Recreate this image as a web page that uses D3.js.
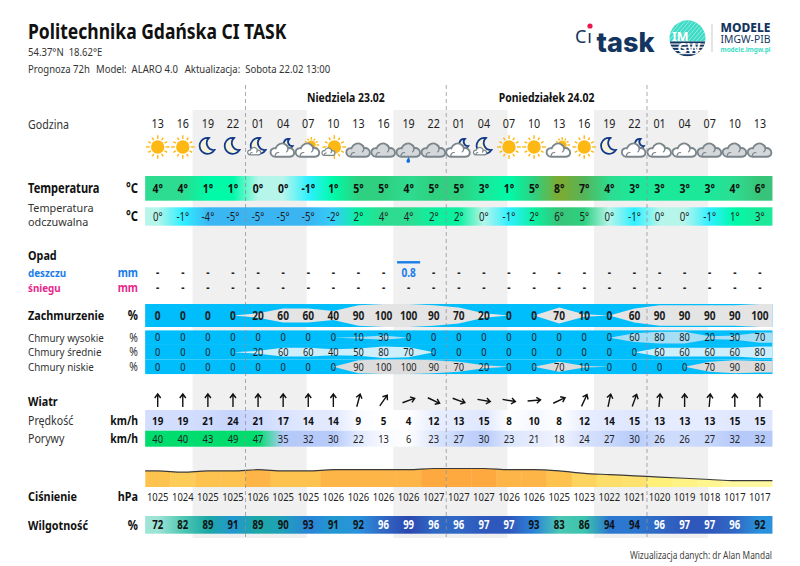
<!DOCTYPE html>
<html>
<head>
<meta charset="utf-8">
<script src="https://cdn.jsdelivr.net/npm/d3@7/dist/d3.min.js"></script>
<style>
  html, body { margin: 0; padding: 0; background: #fff; }
  svg { display: block; }
  text { font-family: "Noto Sans", sans-serif; }
</style>
</head>
<body>
<div id="chart"></div>
<script>
var WIDTH = 800, HEIGHT = 566;

// forecast values, one per column
var hours = ['13','16','19','22','01','04','07','10','13','16','19','22','01','04','07','10','13','16','19','22','01','04','07','10','13'];
var icons = ['sun','sun','moon','moon','moonCloud','cloudMoon','cloudSun','sunCloud','grey','grey','rain','grey','cloudMoon','moonCloud','sun','sun','cloudSun','sun','moon','cloudMoon','white','white','grey','grey','grey'];
var temperature = [4,4,1,1,0,0,-1,1,5,5,4,5,5,3,1,5,8,7,4,3,3,3,3,4,6];
var feelsLike = [0,-1,-4,-5,-5,-5,-5,-2,2,4,4,2,2,0,-1,2,6,5,0,-1,0,0,-1,1,3];
var rain = [0,0,0,0,0,0,0,0,0,0,0.8,0,0,0,0,0,0,0,0,0,0,0,0,0,0];
var snow = [0,0,0,0,0,0,0,0,0,0,0,0,0,0,0,0,0,0,0,0,0,0,0,0,0];
var cloudTotal = [0,0,0,0,20,60,60,40,90,100,100,90,70,20,0,0,70,10,0,60,90,90,90,90,100];
var cloudHigh = [0,0,0,0,0,0,0,0,10,30,0,0,0,0,0,0,0,0,0,60,80,80,20,30,70];
var cloudMid = [0,0,0,0,20,60,60,40,50,80,70,0,0,0,0,0,0,0,0,0,60,60,60,60,80];
var cloudLow = [0,0,0,0,0,0,0,0,90,100,100,90,70,20,0,0,70,10,0,0,0,0,70,90,80];
var windDir = [0,0,0,0,0,0,0,0,15,35,70,115,110,100,100,85,65,25,12,20,5,0,5,0,0];
var windSpeed = [19,19,21,24,21,17,14,14,9,5,4,12,13,15,8,10,8,12,14,15,13,13,13,15,15];
var windGust = [40,40,43,49,47,35,32,30,22,13,6,23,27,30,23,21,18,24,27,30,26,26,27,32,32];
var pressure = [1025,1024,1025,1025,1026,1025,1025,1026,1026,1026,1026,1027,1027,1027,1026,1026,1025,1023,1022,1021,1020,1019,1018,1017,1017];
var humidity = [72,82,89,91,89,90,93,91,92,96,99,96,96,97,97,93,83,86,94,94,96,97,97,96,92];

// night bands and day changes, in column units
var nightFrom = [1.39,9.39,17.39];
var nightTo = [5.94,13.94,21.94];
var dayBreaks = [3.5,11.5,19.5];
var dayNames = ['Niedziela 23.02','Poniedziałek 24.02'];
var dayCentres = [7.5,15.5];

var x = d3.scaleLinear().domain([0,24]).range([157.7,759.9]);
var barLeft = x(-0.5), barRight = x(24.5);
var columns = d3.range(hours.length);

var tempColor = d3.scaleLinear()
  .domain([-5,-4,-2,-1,0,1,2,3,4,5,6,7,8])
  .range(['#3ab5f2','#3ab8f4','#35cdf8','#2ff0ff','#b5f5ea','#00faa8','#0df0a0','#1ce89a','#2ddc90','#2fd080','#38c478','#55b55a','#7eaa30']);
var speedColor = d3.scaleLinear()
  .domain([4,8,12,15,19,24])
  .range(['#ffffff','#ffffff','#e8eeff','#dfe7ff','#d3deff','#c6d4fc']);
var gustColor = d3.scaleLinear()
  .domain([6,13,18,23,27,30,35,39.9,40,50])
  .range(['#ffffff','#f8f9ff','#f0f3fe','#dde6fd','#c8d7fb','#b7cbfa','#b5c9f9','#b5c9f9','#00dd6e','#00dd6e']);
var humColor = d3.scaleLinear()
  .domain([72,82,86,89,91,92,93,94,96,97,99])
  .range(['#9de3d6','#50c8b4','#3cc4ae','#1ca8a6','#2298d0','#2a92dc','#2b84d8','#2c78d0','#3068c4','#2f58bc','#2a48b0']);
var pressColor = d3.scaleLinear()
  .domain([1017,1018,1019,1020,1021,1022,1023,1024,1025,1026,1027])
  .range(['#fff8a0','#fff690','#fff385','#fff07a','#fee270','#fede6a','#fed460','#fecc58','#fec24f','#fdb548','#fda93f']);

var svg = d3.select('#chart').append('svg')
  .attr('width', WIDTH)
  .attr('height', HEIGHT)
  .attr('viewBox', '0 0 ' + WIDTH + ' ' + HEIGHT);
var defs = svg.append('defs');

// the text of the original is narrow and tall, so every label is squeezed sideways
var TEXT_TALL = 1.2, TEXT_NARROW = 0.82;
// rows that sit close together keep a flatter text
var FLAT = { tall: 1.13, narrow: 0.87 };

function label(parent, px, py, str, size, opts) {
  opts = opts || {};
  return parent.append('text')
    .attr('transform', 'translate(' + px + ',' + py + ') scale(' + (opts.narrow || TEXT_NARROW) + ',1)')
    .attr('dy', '.35em')
    .attr('font-size', size * (opts.tall || TEXT_TALL))
    .attr('font-weight', opts.weight || 400)
    .attr('text-anchor', opts.anchor || 'start')
    .attr('fill', opts.fill || '#222')
    .text(str);
}

function flat(opts) {
  return Object.assign({}, opts, FLAT);
}

// horizontal gradient with one stop at each column centre
function rowGradient(id, values, color) {
  var grad = defs.append('linearGradient')
    .attr('id', id)
    .attr('gradientUnits', 'userSpaceOnUse')
    .attr('x1', x(0)).attr('x2', x(24)).attr('y1', 0).attr('y2', 0);
  grad.selectAll('stop').data(values).enter().append('stop')
    .attr('offset', function(d, i) { return i / 24; })
    .attr('stop-color', function(d) { return color(d); });
  return 'url(#' + id + ')';
}

function colourRow(id, values, color, top, bottom) {
  svg.append('rect')
    .attr('x', barLeft).attr('y', top)
    .attr('width', barRight - barLeft).attr('height', bottom - top)
    .attr('fill', rowGradient(id, values, color));
}

function columnText(values, py, size, opts, fmt) {
  var g = svg.append('g');
  values.forEach(function(v, i) {
    var o = Object.assign({ anchor: 'middle' }, opts);
    if (typeof o.fill === 'function') o.fill = o.fill(v);
    label(g, x(i), py, fmt ? fmt(v) : v, size, o);
  });
}

// night bands
svg.selectAll('.night').data(nightFrom).enter().append('rect')
  .attr('class', 'night')
  .attr('x', function(d) { return x(d); })
  .attr('y', 110)
  .attr('width', function(d, i) { return x(nightTo[i]) - x(d); })
  .attr('height', 428)
  .attr('fill', '#f0f0f0');

// header
label(svg, 28, 32, 'Politechnika Gdańska CI TASK', 17.8, { weight: 700, fill: '#111' });
label(svg, 28, 52, '54.37°N  18.62°E', 9.7, { fill: '#333' }).attr('xml:space', 'preserve');
label(svg, 28, 69, 'Prognoza 72h', 9.7, { fill: '#333' });
label(svg, 96, 69, 'Model:  ALARO 4.0', 9.7, { fill: '#333' }).attr('xml:space', 'preserve');
label(svg, 184.7, 69, 'Aktualizacja:  Sobota 22.02 13:00', 9.7, { fill: '#333' }).attr('xml:space', 'preserve');

// logos
var NAVY = '#14355f', TEAL = '#3edcc6';
svg.append('text').attr('x', 575).attr('y', 43).attr('font-size', 18).attr('font-weight', 400)
  .attr('textLength', 17).attr('lengthAdjust', 'spacing')
  .attr('fill', NAVY).text('Cı');
svg.append('circle').attr('cx', 590).attr('cy', 26).attr('r', 2.6).attr('fill', '#e8174f');
svg.append('text').attr('x', 596.5).attr('y', 52).attr('font-size', 27).attr('font-weight', 800)
  .attr('textLength', 58).attr('lengthAdjust', 'spacingAndGlyphs')
  .style('font-family', 'Inter, sans-serif')
  .attr('fill', NAVY).text('task');

defs.append('clipPath').attr('id', 'logoClip').append('circle').attr('cx', 687.5).attr('cy', 38.3).attr('r', 18);
var logo = svg.append('g').attr('clip-path', 'url(#logoClip)');
logo.append('rect').attr('x', 669).attr('y', 20).attr('width', 37).attr('height', 21.5).attr('fill', TEAL);
logo.append('rect').attr('x', 669).attr('y', 41.5).attr('width', 37).attr('height', 15).attr('fill', NAVY);
d3.range(4).forEach(function(k) {
  logo.append('rect').attr('x', 669).attr('y', 43.5 + k * 3.2).attr('width', 37).attr('height', 1.1).attr('fill', '#fff');
});
d3.range(14).forEach(function(k) {
  logo.append('line').attr('x1', 664 + k * 4).attr('y1', 41.5).attr('x2', 684 + k * 4).attr('y2', 18)
    .attr('stroke', '#fff').attr('stroke-width', 0.8).attr('opacity', 0.55);
});
logo.append('text').attr('x', 672).attr('y', 40.7).attr('font-size', 12.5).attr('font-weight', 700).attr('fill', '#fff').text('IM');
logo.append('text').attr('x', 677.5).attr('y', 52.7).attr('font-size', 14).attr('font-weight', 700)
  .attr('textLength', 23).attr('lengthAdjust', 'spacingAndGlyphs').attr('fill', '#fff').text('GW');
svg.append('line').attr('x1', 712).attr('x2', 712).attr('y1', 24).attr('y2', 52).attr('stroke', '#c9c9c9');
var brand = svg.append('text').attr('fill', NAVY);
brand.append('tspan').attr('x', 720.5).attr('y', 32).attr('font-size', 11.5).attr('font-weight', 800)
  .attr('textLength', 50).attr('lengthAdjust', 'spacingAndGlyphs').text('MODELE');
brand.append('tspan').attr('x', 720.5).attr('y', 43.3).attr('font-size', 10.5)
  .attr('textLength', 50).attr('lengthAdjust', 'spacingAndGlyphs').text('IMGW-PIB');
brand.append('tspan').attr('x', 720.5).attr('y', 52).attr('font-size', 7).attr('font-weight', 700).attr('fill', TEAL)
  .attr('textLength', 50).attr('lengthAdjust', 'spacingAndGlyphs').text('modele.imgw.pl');

// days and hours
dayNames.forEach(function(d, i) {
  label(svg, x(dayCentres[i]), 98, d, 10.6, { weight: 700, anchor: 'middle', fill: '#111' });
});
label(svg, 28, 124, 'Godzina', 10.8, { fill: '#333' });
columnText(hours, 123.5, 10.9, { fill: '#222' });

// weather icons
var CLOUD = 'M-7,7C-11,7 -12,3 -11.5,1.5C-11,-1 -8,-2 -6.5,-1.5C-5,-6 0,-7.5 3,-5.5C5,-4.5 6,-3 6,-1.5C9,-2.5 12,0 12,3C12,6 9.5,7 7,7Z';
var MOON = 'M2,-8.5A8,8 0 1 0 7.5,3.5A7,7 0 0 1 2,-8.5Z';

function sun(g, cx, cy, r) {
  g.append('circle').attr('cx', cx).attr('cy', cy).attr('r', r).attr('fill', '#fdb813');
  d3.range(12).forEach(function(k) {
    var a = k * Math.PI / 6, len = k % 3 === 0 ? 1.5 : 1.38;
    g.append('line')
      .attr('x1', cx + Math.cos(a) * r * 1.18).attr('y1', cy + Math.sin(a) * r * 1.18)
      .attr('x2', cx + Math.cos(a) * r * 1.18 * len).attr('y2', cy + Math.sin(a) * r * 1.18 * len)
      .attr('stroke', '#fdb813').attr('stroke-width', 1.4);
  });
}

function moon(g, cx, cy, s) {
  g.append('path')
    .attr('d', MOON)
    .attr('transform', 'translate(' + cx + ',' + cy + ') scale(' + s + ')')
    .attr('fill', '#f7f3d8').attr('stroke', '#12398a').attr('stroke-width', 1.8 / s);
}

function cloud(g, cx, cy, s, fill) {
  var sw = s < 0.7 ? 1.2 : 1.9;
  g.append('path')
    .attr('d', CLOUD)
    .attr('transform', 'translate(' + cx + ',' + cy + ') scale(' + s + ')')
    .attr('fill', fill).attr('stroke', '#7b868c').attr('stroke-width', sw / s);
  g.append('path')
    .attr('d', 'M-7,7C-7.5,4 -5,2 -3,3M6,-1.5C6,0 5,2 4,2.5')
    .attr('transform', 'translate(' + cx + ',' + cy + ') scale(' + s + ')')
    .attr('fill', 'none').attr('stroke', '#7b868c').attr('stroke-width', 1.2 / s);
}

var drawIcon = {
  sun: function(g) { sun(g, 0, 147, 6.7); },
  moon: function(g) { moon(g, -1, 146.5, 1); },
  moonCloud: function(g) { moon(g, 0, 146.5, 1); cloud(g, -4, 151, 0.55, '#fff'); },
  cloudMoon: function(g) { moon(g, 5, 144, 0.6); cloud(g, -1, 149.8, 1, '#fff'); },
  cloudSun: function(g) { sun(g, 3, 145, 4.5); cloud(g, -1, 149.8, 1, '#fff'); },
  sunCloud: function(g) { sun(g, 1, 147, 6.7); cloud(g, -5, 151.5, 0.55, '#fff'); },
  grey: function(g) { cloud(g, -0.5, 149.8, 1, '#d5d8da'); },
  white: function(g) { cloud(g, -0.5, 149.8, 1, '#fff'); },
  rain: function(g) {
    cloud(g, -0.5, 149.8, 1, '#d5d8da');
    g.append('path').attr('d', 'M0,157C-2,160 -2.5,161 -2,162C-1,163.5 1.5,163 1.5,161C1.5,160 1,159 0,157Z').attr('fill', '#0b6fe0');
  }
};
icons.forEach(function(name, i) {
  var g = svg.append('g').attr('transform', 'translate(' + x(i) + ',0)');
  drawIcon[name](g);
});

// temperature
label(svg, 28, 188.5, 'Temperatura', 11.3, { weight: 700, fill: '#111' });
label(svg, 138, 188.5, '°C', 11.5, { weight: 700, anchor: 'end', fill: '#111' });
colourRow('gTemp', temperature, tempColor, 176, 200.7);
columnText(temperature, 188.5, 10.6, { weight: 700, fill: '#111' }, function(v) { return v + '°'; });

var feelsTitle = label(svg, 28, 208, '', 11, { fill: '#333', tall: 1.06, narrow: 0.93 });
feelsTitle.append('tspan').attr('x', 0).text('Temperatura');
feelsTitle.append('tspan').attr('x', 0).attr('dy', 14).text('odczuwalna');
label(svg, 138, 216.5, '°C', 11.5, { weight: 700, anchor: 'end', fill: '#111' });
colourRow('gFeels', feelsLike, tempColor, 207.3, 225.7);
columnText(feelsLike, 216.5, 9.8, { fill: '#222' }, function(v) { return v + '°'; });

// precipitation
label(svg, 28, 255, 'Opad', 11, { weight: 700, fill: '#111' });
label(svg, 28, 273, 'deszczu', 10, flat({ weight: 700, fill: '#1a7de8' }));
label(svg, 138, 273, 'mm', 10.6, flat({ weight: 700, anchor: 'end', fill: '#1a7de8' }));
label(svg, 28, 287.7, 'śniegu', 10, flat({ weight: 700, fill: '#e8278c' }));
label(svg, 138, 287.7, 'mm', 10.6, flat({ weight: 700, anchor: 'end', fill: '#e8278c' }));

var rainHeight = d3.scaleLinear().domain([0,0.8]).range([0,2.4]);
svg.selectAll('.rainbar').data(columns.filter(function(i) { return rain[i] > 0; })).enter().append('rect')
  .attr('class', 'rainbar')
  .attr('x', function(i) { return x(i - 0.46); })
  .attr('width', function(i) { return x(i + 0.46) - x(i - 0.46); })
  .attr('y', function(i) { return 263.5 - rainHeight(rain[i]); })
  .attr('height', function(i) { return rainHeight(rain[i]); })
  .attr('fill', '#1a7de8');
function precipText(values, py, fill) {
  values.forEach(function(v, i) {
    if (v > 0) label(svg, x(i), py, v.toFixed(1), 10.3, flat({ weight: 700, anchor: 'middle', fill: fill }));
    else label(svg, x(i), py, '-', 10.3, flat({ weight: 700, anchor: 'middle', fill: '#222' }));
  });
}
precipText(rain, 273, '#1a7de8');
precipText(snow, 287.7, '#e8278c');

// clouds
var SKY = '#00bdfb';
function cloudRow(values, top, bottom, fill, size, opts) {
  var mid = (top + bottom) / 2;
  var half = d3.scaleLinear().domain([0,100]).range([0,(bottom - top) / 2]);
  svg.append('rect').attr('x', barLeft).attr('y', top)
    .attr('width', barRight - barLeft).attr('height', bottom - top).attr('fill', SKY);
  var pts = [{ i: -0.5, v: values[0] }]
    .concat(values.map(function(v, i) { return { i: i, v: v }; }))
    .concat([{ i: 24.5, v: values[24] }]);
  svg.append('path')
    .datum(pts)
    .attr('d', d3.area()
      .x(function(d) { return x(d.i); })
      .y0(function(d) { return mid - half(d.v); })
      .y1(function(d) { return mid + half(d.v); }))
    .attr('fill', fill);
  columnText(values, mid, size, opts);
}
label(svg, 28, 315.5, 'Zachmurzenie', 11, { weight: 700, fill: '#111' });
label(svg, 138, 315.5, '%', 11.5, { weight: 700, anchor: 'end', fill: '#111' });
cloudRow(cloudTotal, 304, 327, '#e4e4e4', 10.3, { weight: 700, fill: '#1c1c1c' });
var cloudNames = ['Chmury wysokie','Chmury średnie','Chmury niskie'];
var cloudSeries = [cloudHigh, cloudMid, cloudLow];
var cloudFills = ['#a5def5','#cdeefb','#dcdcdc'];
cloudNames.forEach(function(n, k) {
  var top = 330.4 + k * 14.55;
  label(svg, 28, top + 7.3, n, 10, flat({ fill: '#333' }));
  label(svg, 138, top + 7.3, '%', 10.6, flat({ anchor: 'end', fill: '#333' }));
  cloudRow(cloudSeries[k], top, top + 14.55, cloudFills[k], 9.4, flat({ fill: '#1c1c1c' }));
});

// wind
label(svg, 28, 401, 'Wiatr', 11, { weight: 700, fill: '#111' });
windDir.forEach(function(deg, i) {
  var g = svg.append('g').attr('transform', 'translate(' + x(i) + ',400.5) rotate(' + deg + ')');
  g.append('path').attr('d', 'M0,6.5V-6M-3,-2.5L0,-6.5L3,-2.5')
    .attr('fill', 'none').attr('stroke', '#111').attr('stroke-width', 1.4);
});
label(svg, 28, 421, 'Prędkość', 10.8, flat({ fill: '#333' }));
label(svg, 138, 421, 'km/h', 10.6, flat({ weight: 700, anchor: 'end', fill: '#111' }));
colourRow('gSpeed', windSpeed, speedColor, 410, 430.7);
columnText(windSpeed, 421, 10, flat({ weight: 700, fill: '#111' }));
label(svg, 28, 439, 'Porywy', 10.8, flat({ fill: '#333' }));
label(svg, 138, 439, 'km/h', 10.6, flat({ weight: 700, anchor: 'end', fill: '#111' }));
colourRow('gGust', windGust, gustColor, 430.7, 446.7);
columnText(windGust, 439, 9.5, flat({ fill: '#222' }));

// pressure
var pressY = d3.scaleLinear().domain([1017,1027]).range([480.7,468.5]);
var pressPts = [{ i: -0.5, v: pressure[0] }]
  .concat(pressure.map(function(v, i) { return { i: i, v: v }; }))
  .concat([{ i: 24.5, v: pressure[24] }]);
defs.append('clipPath').attr('id', 'pressClip').append('path')
  .attr('d', d3.area().x(function(d) { return x(d.i); }).y0(487).y1(function(d) { return pressY(d.v); }).curve(d3.curveMonotoneX)(pressPts));
svg.append('g').attr('clip-path', 'url(#pressClip)')
  .selectAll('rect').data(columns).enter().append('rect')
  .attr('x', function(i) { return x(i - 0.5); })
  .attr('width', function(i) { return x(i + 0.5) - x(i - 0.5) + 0.3; })
  .attr('y', 460).attr('height', 30)
  .attr('fill', function(i) { return pressColor(pressure[i]); });
svg.append('path')
  .attr('d', d3.line().x(function(d) { return x(d.i); }).y(function(d) { return pressY(d.v); }).curve(d3.curveMonotoneX)(pressPts))
  .attr('fill', 'none').attr('stroke', '#3a3a3a').attr('stroke-width', 1.2);
label(svg, 28, 496, 'Ciśnienie', 11, { weight: 700, fill: '#111' });
label(svg, 138, 496, 'hPa', 11, { weight: 700, anchor: 'end', fill: '#111' });
columnText(pressure, 496.5, 9.6, { fill: '#222' });

// humidity
label(svg, 28, 525, 'Wilgotność', 11, { weight: 700, fill: '#111' });
label(svg, 138, 525, '%', 11.5, { weight: 700, anchor: 'end', fill: '#111' });
colourRow('gHum', humidity, humColor, 516, 533.7);
columnText(humidity, 525, 9.7, { weight: 700, fill: function(v) { return v >= 96 ? '#fff' : '#111'; } });

// day separators
svg.selectAll('.sep').data(dayBreaks).enter().append('line')
  .attr('class', 'sep')
  .attr('x1', function(d) { return x(d); })
  .attr('x2', function(d) { return x(d); })
  .attr('y1', 85).attr('y2', 538)
  .attr('stroke', '#8f8f9a').attr('stroke-width', 1)
  .attr('stroke-dasharray', '4,3')
  .attr('opacity', 0.75);

label(svg, 772, 555, 'Wizualizacja danych: dr Alan Mandal', 8.5, { anchor: 'end', fill: '#444' });
</script>
</body>
</html>
